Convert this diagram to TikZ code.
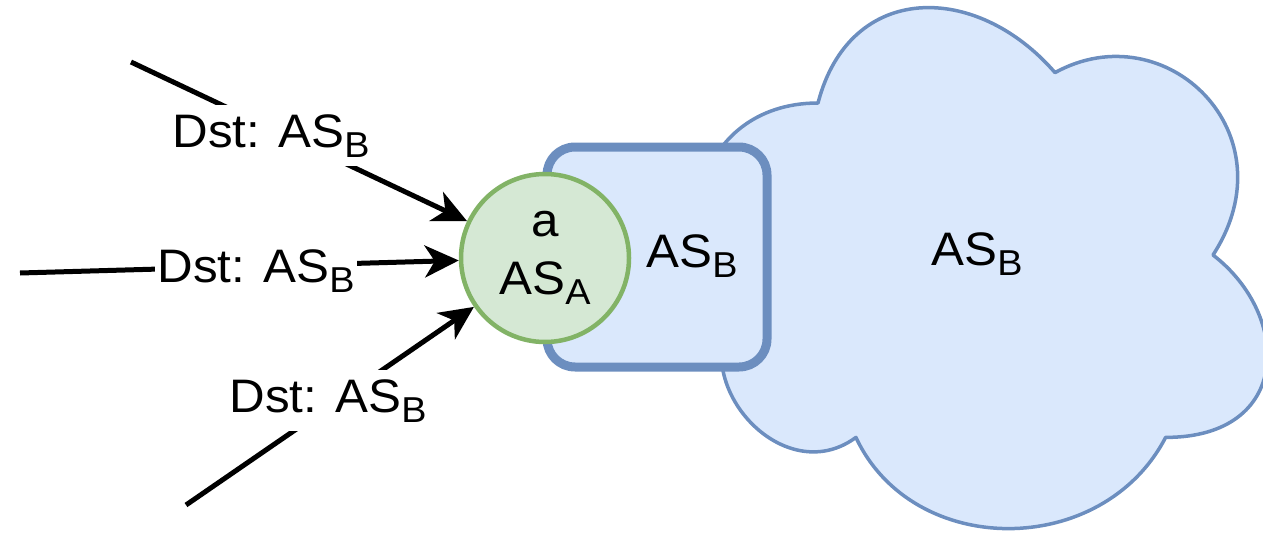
\documentclass[tikz,border=0pt]{standalone}
\usepackage{fontspec}
\setmainfont{Liberation Sans}[FakeStretch=1.05]
\usetikzlibrary{arrows.meta}
\definecolor{asfill}{HTML}{DAE8FC}
\definecolor{asline}{HTML}{6C8EBF}
\definecolor{srcfill}{HTML}{D5E8D4}
\definecolor{srcline}{HTML}{82B366}
\newcommand\asidx[1]{\raisebox{-10pt}{\fontsize{36}{36}\selectfont #1}}

\begin{document}
\begin{tikzpicture}[x=1pt,y=-1pt,>={Stealth[length=34pt,width=32pt,inset=10pt]},
                    line width=5pt,font=\fontsize{47}{58}\selectfont]
  \tikzstyle{as}=[fill=asfill,draw=asline]
  \tikzstyle{router}=[circle,fill=srcfill,draw=srcline,line width=4.5pt,minimum size=168pt,inner sep=0pt,align=center]
  \tikzstyle{dst}=[fill=white,inner xsep=2pt,inner ysep=9pt,anchor=base]

  \useasboundingbox (0,0) rectangle (1263,533);

  % the big AS_B cloud
  \begin{scope}[shift={(660,-49)},x=6.32pt,y=-6.08pt]
    \draw[as,line width=3.5pt,line join=round]
      (25,25) .. controls (5,25) and (0,50) .. (16,55)
      .. controls (0,66) and (18,90) .. (31,80)
      .. controls (40,100) and (70,100) .. (80,80)
      .. controls (100,80) and (100,60) .. (87.5,50)
      .. controls (100,30) and (80,10) .. (62.5,20)
      .. controls (50,5) and (30,5) .. (25,25) -- cycle;
  \end{scope}
  \node[anchor=base] (asbcloud) at (977,265) {AS\asidx{B}};

  % border router of AS_B, with a sitting on it
  \node[as,line width=9pt,minimum size=220pt,rounded corners=28pt] (border) at (657,257) {};
  \node[anchor=base] (asbtxt) at (692,267) {AS\asidx{B}};
  \node[router] (asa) at (545,258) {a\\AS\asidx{A}};

  \coordinate (in1) at (131,62);
  \coordinate (in2) at (20,273);
  \coordinate (in3) at (186,505);

  \path[->]
(in1) edge (asa)
(in2) edge (asa)
(in3) edge (asa);

  \node[dst] (dst1) at (271,147) {Dst: AS\asidx{B}};
  \node[dst] (dst2) at (256,282) {Dst: AS\asidx{B}};
  \node[dst] (dst3) at (328,412) {Dst: AS\asidx{B}};
\end{tikzpicture}
\end{document}
